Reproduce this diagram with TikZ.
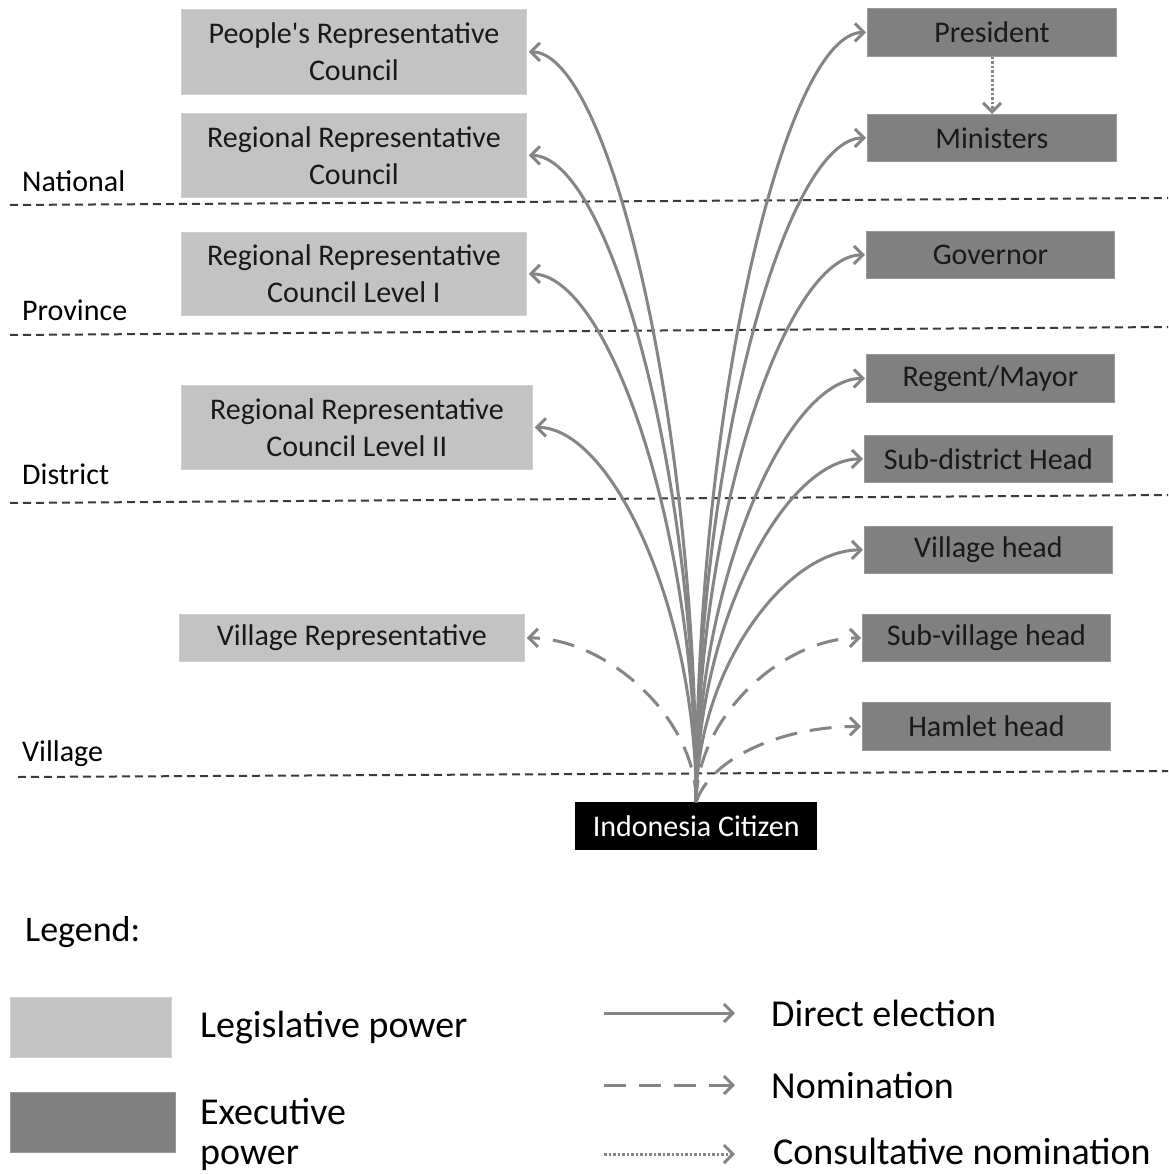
\documentclass[tikz,border=0pt]{standalone}
\usepackage{fontspec}
\setmainfont{Carlito}
\usetikzlibrary{arrows.meta}
\definecolor{legc}{HTML}{C3C3C3}
\definecolor{exec}{HTML}{808080}
\definecolor{arr}{HTML}{858585}
\definecolor{sep}{HTML}{3A3A3A}
\tikzset{
  legbox/.style={fill=legc, draw=legc!80!white, line width=0.8pt, inner sep=0pt, anchor=north west, align=center, font=\fontsize{30}{37}\selectfont, text=black!90},
  exbox/.style={fill=exec, draw=exec!80!white, line width=0.8pt, inner sep=0pt, anchor=north west, align=center, font=\fontsize{30}{37}\selectfont, text=black!90},
  direct/.style={draw=arr, line width=3pt, -{Straight Barb[length=9pt,width=18pt,line width=3pt]}},
  nomin/.style={direct, dash pattern=on 22pt off 13pt},
  consult/.style={direct, dash pattern=on 2.5pt off 2pt},
  seprule/.style={draw=sep, line width=2pt, dash pattern=on 8pt off 5pt},
  lvl/.style={anchor=west, font=\fontsize{30}{37}\selectfont, inner sep=0pt},
  lgtext/.style={anchor=base west, font=\fontsize{38}{46}\selectfont, inner sep=0pt, align=left},
}
\begin{document}
\begin{tikzpicture}[x=1pt,y=-1pt]
\useasboundingbox (0,0) rectangle (1168,1174);
\fill[white] (0,0) rectangle (1168,1174);
% separators
\draw[seprule] (10,205) -- (1168,198);
\draw[seprule] (10,335) -- (1168,327);
\draw[seprule] (10,503) -- (1168,495);
\draw[seprule] (18,777) -- (1168,771);
\node[lvl] (lnat) at (22,181) {National};
\node[lvl] (lprov) at (22,310) {Province};
\node[lvl] (ldist) at (22,474) {District};
\node[lvl] (lvil) at (22,754) {Village};
% legislative
\node[legbox, minimum width=345pt, minimum height=85pt] (prc) at (181,9) {People\textquotesingle s Representative\\Council};
\node[legbox, minimum width=345pt, minimum height=84pt] (rrc) at (181,113) {Regional Representative\\Council};
\node[legbox, minimum width=345pt, minimum height=83pt] (rrc1) at (181,232) {Regional Representative\\Council Level I};
\node[legbox, minimum width=351pt, minimum height=84pt] (rrc2) at (181,385) {Regional Representative\\Council Level II};
\node[legbox, minimum width=345pt, minimum height=47pt] (vrep) at (179,614) {Village Representative};
% executive
\node[exbox, minimum width=249pt, minimum height=48pt] (pres) at (867,8) {President};
\node[exbox, minimum width=249pt, minimum height=47pt] (min) at (867,114) {Ministers};
\node[exbox, minimum width=248pt, minimum height=47pt] (gov) at (866,231) {Governor};
\node[exbox, minimum width=248pt, minimum height=48pt] (reg) at (866,354) {Regent/Mayor};
\node[exbox, minimum width=248pt, minimum height=47pt] (sdh) at (864,435) {Sub-district Head};
\node[exbox, minimum width=248pt, minimum height=47pt] (vh) at (864,526) {Village head};
\node[exbox, minimum width=248pt, minimum height=47pt] (svh) at (862,614) {Sub-village head};
\node[exbox, minimum width=248pt, minimum height=48pt] (hh) at (862,702) {Hamlet head};
% citizen
\node[fill=black, inner sep=0pt, minimum width=242pt, minimum height=48pt, anchor=north west, text=white, font=\fontsize{30}{37}\selectfont] (cit) at (575,802) {Indonesia Citizen};
% arrows (left)
\draw[direct] (cit.north) .. controls +(0,-390) and +(79,0) .. ([xshift=2pt]prc.east);
\draw[direct] (cit.north) .. controls +(0,-336) and +(79,0) .. ([xshift=2pt]rrc.east);
\draw[direct] (cit.north) .. controls +(0,-275) and +(79,0) .. ([xshift=2pt]rrc1.east);
\draw[direct] (cit.north) .. controls +(0,-195) and +(76,0) .. ([xshift=2pt]rrc2.east);
\draw[nomin] (cit.north) .. controls +(0,-85) and +(79,0) .. ([xshift=2pt]vrep.east);
% arrows (right)
\draw[direct] (cit.north) .. controls +(0,-400) and +(-80,0) .. ([xshift=-1pt]pres.west);
\draw[direct] (cit.north) .. controls +(0,-345) and +(-80,0) .. ([xshift=-1pt]min.west);
\draw[direct] (cit.north) .. controls +(0,-285) and +(-79,0) .. ([xshift=-1pt]gov.west);
\draw[direct] (cit.north) .. controls +(0,-220) and +(-79,0) .. ([xshift=-1pt]reg.west);
\draw[direct] (cit.north) .. controls +(0,-178) and +(-78,0) .. ([xshift=-1pt]sdh.west);
\draw[direct] (cit.north) .. controls +(0,-131) and +(-78,0) .. ([xshift=-1pt]vh.west);
\draw[nomin] (cit.north) .. controls +(0,-85) and +(-78,0) .. ([xshift=-1pt]svh.west);
\draw[nomin] (cit.north) .. controls +(15,-45) and +(-78,0) .. ([xshift=-1pt]hh.west);
\draw[consult] ([xshift=125pt]pres.south west) -- ([xshift=125pt]min.north west);
% legend
\node[lgtext, anchor=west, font=\fontsize{36}{44}\selectfont] (lgd) at (25,932) {Legend:};
\node[fill=legc, draw=legc!80!white, line width=0.8pt, inner sep=0pt, minimum width=161pt, minimum height=60pt, anchor=north west] (lgleg) at (10,997) {};
\node[fill=exec, draw=exec!80!white, line width=0.8pt, inner sep=0pt, minimum width=165pt, minimum height=60pt, anchor=north west] (lgexe) at (10,1092) {};
\node[lgtext] (tleg) at (200,1037) {Legislative power};
\node[lgtext] (texe1) at (200,1124) {Executive};
\node[lgtext] (texe2) at (200,1164) {power};
\coordinate (a1s) at (604,1013); \coordinate (a1e) at (735,1013);
\coordinate (a2s) at (604,1085); \coordinate (a2e) at (735,1085);
\coordinate (a3s) at (604,1154); \coordinate (a3e) at (735,1154);
\draw[direct] (a1s) -- (a1e);
\draw[nomin] (a2s) -- (a2e);
\draw[consult] (a3s) -- (a3e);
\node[lgtext] (tdir) at (771,1026) {Direct election};
\node[lgtext] (tnom) at (771,1098) {Nomination};
\node[lgtext] (tcon) at (773,1164) {Consultative nomination};
\end{tikzpicture}
\end{document}
